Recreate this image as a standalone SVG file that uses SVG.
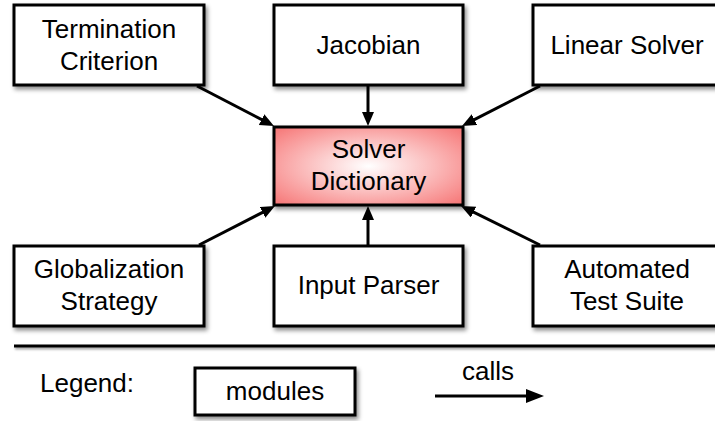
<svg xmlns="http://www.w3.org/2000/svg" width="715" height="421" viewBox="0 0 715 421">
  <defs>
    <filter id="shadow" x="-10%" y="-10%" width="130%" height="140%">
      <feDropShadow dx="2" dy="3" stdDeviation="2" flood-color="#000" flood-opacity="0.45"/>
    </filter>
    <filter id="ruleShadow" filterUnits="userSpaceOnUse" x="0" y="330" width="715" height="30">
      <feDropShadow dx="1" dy="2" stdDeviation="1" flood-color="#000" flood-opacity="0.35"/>
    </filter>
    <radialGradient id="hubFill" cx="0.5" cy="0.5" r="0.75">
      <stop offset="0" stop-color="#ffffff"/>
      <stop offset="0.75" stop-color="#f89090"/>
      <stop offset="1" stop-color="#f46a6a"/>
    </radialGradient>
    <marker id="head" markerUnits="userSpaceOnUse" markerWidth="16" markerHeight="14" refX="4" refY="6" orient="auto">
      <path d="M0,0 L14,6 L0,12 z" fill="#000"/>
    </marker>
    <marker id="headLegend" markerUnits="userSpaceOnUse" markerWidth="20" markerHeight="16" refX="4" refY="7" orient="auto">
      <path d="M0,0 L18,7 L0,14 z" fill="#000"/>
    </marker>
    <style>
      .box { fill: #fff; stroke: #000; stroke-width: 3; filter: url(#shadow); }
      .hub { fill: url(#hubFill); stroke: #000; stroke-width: 3; filter: url(#shadow); }
      .label { font-family: "Liberation Sans", Arial, Helvetica, sans-serif; font-size: 26px; fill: #000; text-anchor: middle; }
      .edge { stroke: #000; stroke-width: 3; fill: none; marker-end: url(#head); }
    </style>
  </defs>

  <!-- top row -->
  <g id="termination">
    <rect class="box" x="14" y="5" width="190" height="80"/>
    <text class="label" x="109" y="38">Termination</text>
    <text class="label" x="109" y="70">Criterion</text>
  </g>
  <g id="jacobian">
    <rect class="box" x="274" y="5" width="189" height="80"/>
    <text class="label" x="368.5" y="54">Jacobian</text>
  </g>
  <g id="linear-solver">
    <rect class="box" x="533" y="5" width="190" height="80"/>
    <text class="label" x="627" y="54">Linear Solver</text>
  </g>

  <!-- central dictionary -->
  <g id="solver-dictionary">
    <rect class="hub" x="274" y="127" width="189" height="78"/>
    <text class="label" x="368.5" y="158">Solver</text>
    <text class="label" x="368.5" y="190">Dictionary</text>
  </g>

  <!-- bottom row -->
  <g id="globalization">
    <rect class="box" x="14" y="246" width="190" height="80"/>
    <text class="label" x="109" y="278">Globalization</text>
    <text class="label" x="109" y="310">Strategy</text>
  </g>
  <g id="input-parser">
    <rect class="box" x="274" y="246" width="189" height="80"/>
    <text class="label" x="368.5" y="294">Input Parser</text>
  </g>
  <g id="test-suite">
    <rect class="box" x="533" y="246" width="190" height="80"/>
    <text class="label" x="627" y="278">Automated</text>
    <text class="label" x="627" y="310">Test Suite</text>
  </g>

  <!-- calls into the dictionary -->
  <g id="connectors">
    <line class="edge" x1="197" y1="86" x2="265.1" y2="121.4"/>
    <line class="edge" x1="368" y1="86" x2="368" y2="116"/>
    <line class="edge" x1="540" y1="86" x2="470.9" y2="121.4"/>
    <line class="edge" x1="199" y1="245" x2="266.1" y2="210.6"/>
    <line class="edge" x1="368" y1="246" x2="368" y2="216"/>
    <line class="edge" x1="540" y1="245" x2="470" y2="210.4"/>
  </g>

  <!-- legend -->
  <g id="legend">
    <rect x="14" y="344.5" width="701" height="3" fill="#000" filter="url(#ruleShadow)"/>
    <text class="label" x="40" y="392" style="text-anchor:start">Legend:</text>
    <g id="legend-module">
      <rect class="box" x="195" y="368" width="160" height="47"/>
      <text class="label" x="275" y="400">modules</text>
    </g>
    <text class="label" x="488" y="380">calls</text>
    <line x1="435" y1="396" x2="530" y2="396" stroke="#000" stroke-width="3" marker-end="url(#headLegend)"/>
  </g>
</svg>
